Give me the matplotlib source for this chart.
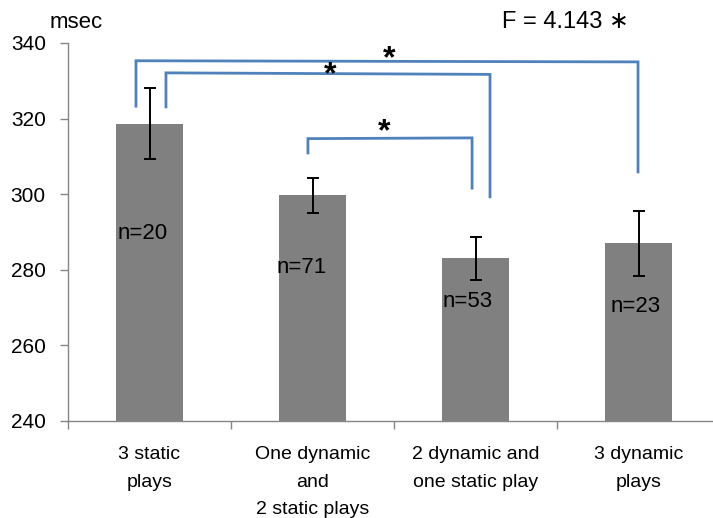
import matplotlib
matplotlib.use("Agg")
import matplotlib.pyplot as plt

categories = ["3 static\nplays", "One dynamic\nand\n2 static plays",
              "2 dynamic and\none static play", "3 dynamic\nplays"]
means = [318.7, 299.7, 283.0, 287.0]
errors = [9.5, 4.7, 5.7, 8.6]
n_labels = ["n=20", "n=71", "n=53", "n=23"]
n_label_x = [-0.04, 0.936, 1.954, 2.985]
n_label_y = [289.5, 280.5, 271.5, 270.4]

# significance brackets: left x, right x, top y (left/right), bottom y (left/right)
brk_xl = [-0.083, 0.101, 0.972]
brk_xr = [2.997, 2.089, 1.979]
brk_top_l = [335.3, 332.1, 314.7]
brk_top_r = [335.0, 331.7, 314.9]
brk_bot_l = [323.3, 323.1, 310.9]
brk_bot_r = [305.9, 299.3, 301.6]
star_x = [1.47, 1.11, 1.44]
star_y = [335.6, 331.4, 316.3]

yticks = [240, 260, 280, 300, 320, 340]

W, H = 713, 518
fig = plt.figure(figsize=(W / 100, H / 100), dpi=100)
ax = fig.add_axes([68 / W, 97 / H, (720 - 68) / W, 378 / H])

x = list(range(len(categories)))
ax.bar(x, [m - 240 for m in means], bottom=240, width=0.41, color="#808080", zorder=2)
ax.errorbar(x, means, yerr=errors, fmt="none", ecolor="black", elinewidth=1.4,
            capsize=4.5, capthick=1.4, zorder=3)

for lx, ly, t in zip(n_label_x, n_label_y, n_labels):
    ax.text(lx, ly, t, ha="center", va="center", fontsize=16,
            family="Liberation Sans", color="black", zorder=4)

blue = "#4F81BD"
for xl, xr, tl, tr, bl, br in zip(brk_xl, brk_xr, brk_top_l, brk_top_r, brk_bot_l, brk_bot_r):
    ax.plot([xl, xl, xr, xr], [bl, tl, tr, br], color=blue, lw=2.0,
            solid_joinstyle="miter", clip_on=False, zorder=5)
for sx, sy in zip(star_x, star_y):
    ax.text(sx, sy, "*", ha="center", va="center", fontsize=23, fontweight="bold",
            family="Liberation Sans", color="black", zorder=6, clip_on=False)

ax.set_xlim(-0.5, 3.5)
ax.set_ylim(240, 340)
ax.set_yticks(yticks)
ax.set_yticklabels([str(v) for v in yticks], fontsize=15, family="Liberation Sans")
ax.set_xticks([i + 0.5 for i in range(-1, 4)])
ax.set_xticklabels([])
ax.set_xticks(x, minor=True)
ax.set_xticklabels(categories, minor=True, fontsize=14, family="Liberation Sans",
                   linespacing=1.82)
ax.tick_params(axis="x", which="minor", length=0, pad=18)
ax.tick_params(axis="x", which="major", length=6, color="#868686", width=1)
ax.tick_params(axis="y", length=6, color="#868686", width=1, pad=10)

for s in ["top", "right"]:
    ax.spines[s].set_visible(False)
for s in ["left", "bottom"]:
    ax.spines[s].set_color("#868686")
    ax.spines[s].set_linewidth(1)

fig.text(76 / W, 1 - 22 / H, "msec", ha="center", va="center", fontsize=16,
         family="Liberation Sans")
fig.text(565 / W, 1 - 22 / H, "F = 4.143 \u2217", ha="center", va="center", fontsize=17,
         family=["Liberation Sans", "DejaVu Sans"])

fig.savefig("out.png", dpi=100)
